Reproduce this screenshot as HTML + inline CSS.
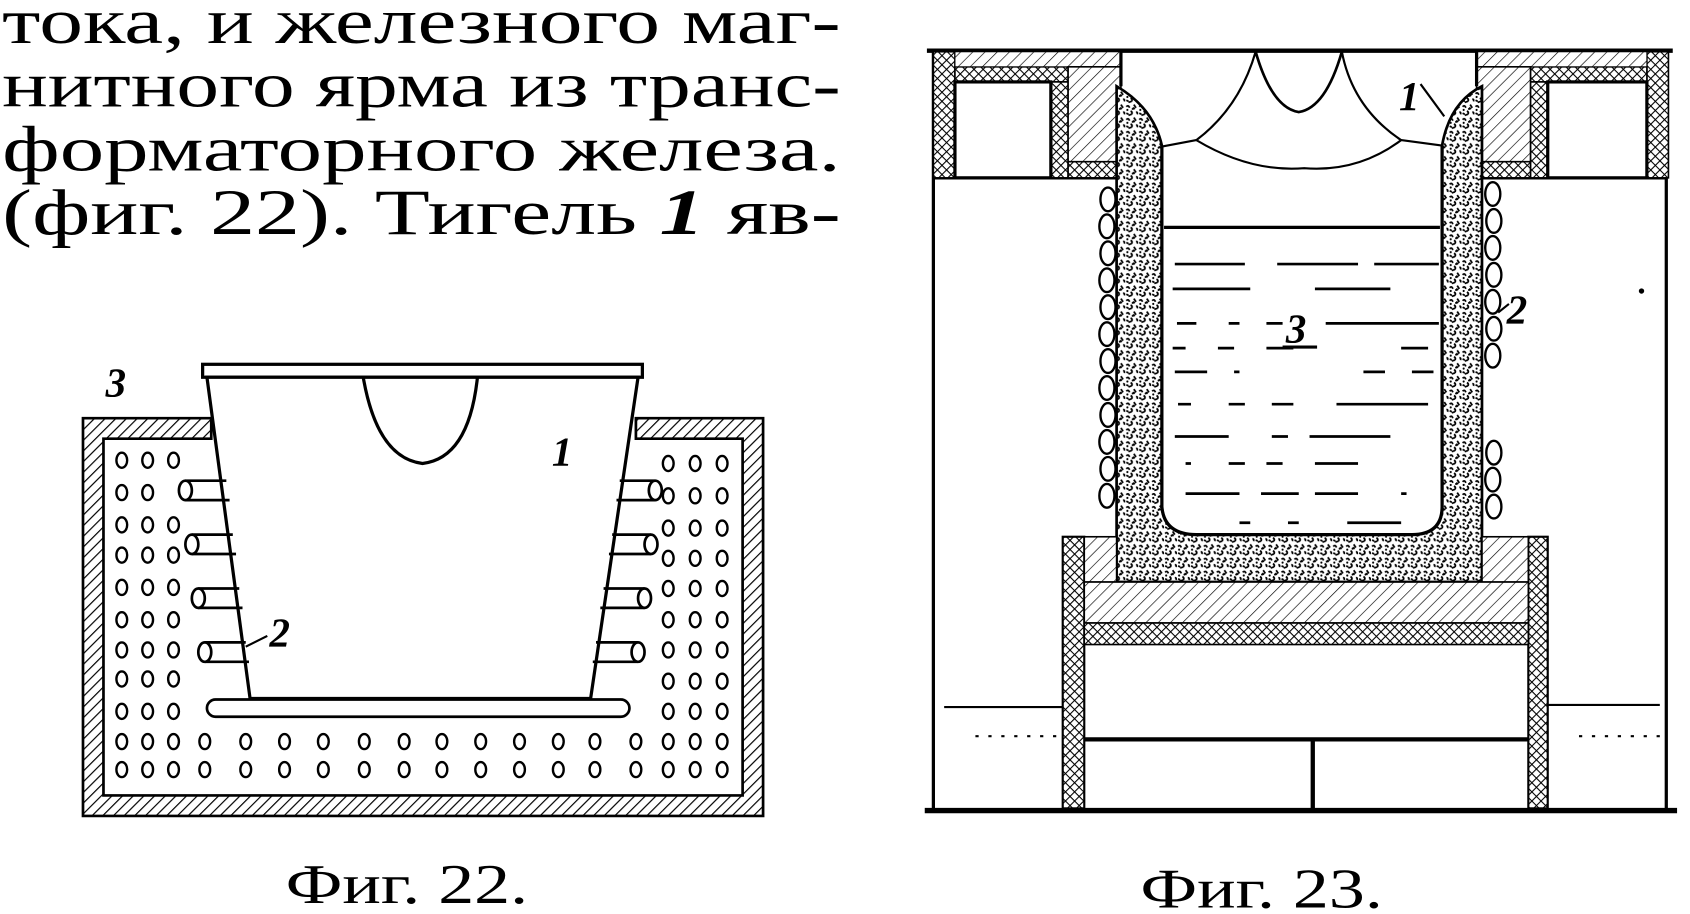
<!DOCTYPE html>
<html><head><meta charset="utf-8"><style>
html,body{margin:0;padding:0;background:#fff;}
svg{display:block;}
</style></head><body>
<svg width="1690" height="914" viewBox="0 0 1568 848" preserveAspectRatio="none" xmlns="http://www.w3.org/2000/svg">
<defs>
<pattern id="h" width="7" height="7" patternUnits="userSpaceOnUse" patternTransform="rotate(45)"><rect width="7" height="7" fill="#fff"/><line x1="0" y1="0" x2="0" y2="7" stroke="#000" stroke-width="2.2"/></pattern>
<pattern id="hl" width="8" height="8" patternUnits="userSpaceOnUse" patternTransform="rotate(45)"><rect width="8" height="8" fill="#fff"/><line x1="0" y1="0" x2="0" y2="8" stroke="#000" stroke-width="1.2"/></pattern>
<pattern id="x" width="6" height="6" patternUnits="userSpaceOnUse" patternTransform="rotate(45)"><rect width="6" height="6" fill="#fff"/><line x1="0" y1="0" x2="0" y2="6" stroke="#000" stroke-width="2"/><line x1="0" y1="0" x2="6" y2="0" stroke="#000" stroke-width="2"/></pattern>
<pattern id="g" width="12" height="12" patternUnits="userSpaceOnUse"><rect width="12" height="12" fill="#fff"/><path d="M1 3q2-2 3 1M8 1l2 3M5 7q2 1 1 3M10 8q2 0 1 2M1 9l2 1M3 11l3-1M7 4l2 1" stroke="#000" stroke-width="1.6" fill="none"/><circle cx="7" cy="5" r="1"/><circle cx="2" cy="6" r="1"/></pattern>
<g id="row" fill="none" stroke="#000" stroke-width="2.2"><ellipse cx="113" cy="0" rx="5" ry="7"/><ellipse cx="137" cy="0" rx="5" ry="7"/><ellipse cx="161" cy="0" rx="5" ry="7"/><ellipse cx="190" cy="0" rx="5" ry="7"/><ellipse cx="228" cy="0" rx="5" ry="7"/><ellipse cx="264" cy="0" rx="5" ry="7"/><ellipse cx="300" cy="0" rx="5" ry="7"/><ellipse cx="338" cy="0" rx="5" ry="7"/><ellipse cx="375" cy="0" rx="5" ry="7"/><ellipse cx="410" cy="0" rx="5" ry="7"/><ellipse cx="446" cy="0" rx="5" ry="7"/><ellipse cx="482" cy="0" rx="5" ry="7"/><ellipse cx="518" cy="0" rx="5" ry="7"/><ellipse cx="552" cy="0" rx="5" ry="7"/><ellipse cx="590" cy="0" rx="5" ry="7"/><ellipse cx="620" cy="0" rx="5" ry="7"/><ellipse cx="645" cy="0" rx="5" ry="7"/><ellipse cx="670" cy="0" rx="5" ry="7"/></g>
</defs>
<g font-family="'Liberation Serif','DejaVu Serif',serif" font-size="60" fill="#000">
<text x="2" y="40" textLength="778" lengthAdjust="spacingAndGlyphs">тока,  и  железного  маг-</text>
<text x="2" y="99" textLength="778" lengthAdjust="spacingAndGlyphs">нитного  ярма  из  транс-</text>
<text x="2" y="158" textLength="778" lengthAdjust="spacingAndGlyphs">форматорного      железа.</text>
<text x="2" y="217" textLength="778" lengthAdjust="spacingAndGlyphs">(фиг. 22).  Тигель <tspan font-weight="bold" font-style="italic">1</tspan>  яв-</text>
<text x="265" y="838" font-size="52" textLength="225" lengthAdjust="spacingAndGlyphs">Фиг. 22.</text>
<text x="1058" y="842" font-size="52" textLength="225" lengthAdjust="spacingAndGlyphs">Фиг. 23.</text>
</g>
<!-- Fig 22 -->
<g stroke="#000" stroke-width="3" fill="none">
<path d="M77 388H196V407H96V738H689V407H590V388H708V757H77Z" fill="url(#h)" stroke-width="2.5"/>
<rect x="188" y="338" width="408" height="12" fill="#fff"/>
<path d="M192 350H592L548 648H232Z" fill="#fff"/>
<path d="M337 350Q350 425 392 430Q435 425 443 350"/>
<g stroke-width="2.5" fill="#fff">
<path d="M172 446H210M172 464H213"/><ellipse cx="172" cy="455" rx="6" ry="9"/>
<path d="M178 496H216M178 514H219"/><ellipse cx="178" cy="505" rx="6" ry="9"/>
<path d="M184 546H222M184 564H225"/><ellipse cx="184" cy="555" rx="6" ry="9"/>
<path d="M190 596H228M190 614H231"/><ellipse cx="190" cy="605" rx="6" ry="9"/>
<path d="M575 446H608M572 464H608"/><ellipse cx="608" cy="455" rx="6" ry="9"/>
<path d="M568 496H604M565 514H604"/><ellipse cx="604" cy="505" rx="6" ry="9"/>
<path d="M560 546H598M557 564H598"/><ellipse cx="598" cy="555" rx="6" ry="9"/>
<path d="M553 596H592M550 614H592"/><ellipse cx="592" cy="605" rx="6" ry="9"/>
<rect x="192" y="649" width="392" height="16" rx="8"/>
</g>
<path d="M228 600L248 590" stroke-width="2"/>
</g>
<g font-family="'Liberation Serif',serif" font-style="italic" font-weight="bold" font-size="38">
<text x="98" y="368">3</text><text x="512" y="432">1</text><text x="250" y="600">2</text>
</g>
<g fill="none" stroke="#000" stroke-width="2.2">
<ellipse cx="113" cy="427" rx="5" ry="7"/><ellipse cx="137" cy="427" rx="5" ry="7"/><ellipse cx="161" cy="427" rx="5" ry="7"/>
<ellipse cx="113" cy="457" rx="5" ry="7"/><ellipse cx="137" cy="457" rx="5" ry="7"/>
<ellipse cx="113" cy="487" rx="5" ry="7"/><ellipse cx="137" cy="487" rx="5" ry="7"/><ellipse cx="161" cy="487" rx="5" ry="7"/>
<ellipse cx="113" cy="515" rx="5" ry="7"/><ellipse cx="137" cy="515" rx="5" ry="7"/><ellipse cx="161" cy="515" rx="5" ry="7"/>
<ellipse cx="113" cy="545" rx="5" ry="7"/><ellipse cx="137" cy="545" rx="5" ry="7"/><ellipse cx="161" cy="545" rx="5" ry="7"/>
<ellipse cx="113" cy="575" rx="5" ry="7"/><ellipse cx="137" cy="575" rx="5" ry="7"/><ellipse cx="161" cy="575" rx="5" ry="7"/>
<ellipse cx="113" cy="603" rx="5" ry="7"/><ellipse cx="137" cy="603" rx="5" ry="7"/><ellipse cx="161" cy="603" rx="5" ry="7"/>
<ellipse cx="113" cy="630" rx="5" ry="7"/><ellipse cx="137" cy="630" rx="5" ry="7"/><ellipse cx="161" cy="630" rx="5" ry="7"/>
<ellipse cx="113" cy="660" rx="5" ry="7"/><ellipse cx="137" cy="660" rx="5" ry="7"/><ellipse cx="161" cy="660" rx="5" ry="7"/>
<ellipse cx="620" cy="430" rx="5" ry="7"/><ellipse cx="645" cy="430" rx="5" ry="7"/><ellipse cx="670" cy="430" rx="5" ry="7"/>
<ellipse cx="620" cy="460" rx="5" ry="7"/><ellipse cx="645" cy="460" rx="5" ry="7"/><ellipse cx="670" cy="460" rx="5" ry="7"/>
<ellipse cx="620" cy="490" rx="5" ry="7"/><ellipse cx="645" cy="490" rx="5" ry="7"/><ellipse cx="670" cy="490" rx="5" ry="7"/>
<ellipse cx="620" cy="518" rx="5" ry="7"/><ellipse cx="645" cy="518" rx="5" ry="7"/><ellipse cx="670" cy="518" rx="5" ry="7"/>
<ellipse cx="620" cy="546" rx="5" ry="7"/><ellipse cx="645" cy="546" rx="5" ry="7"/><ellipse cx="670" cy="546" rx="5" ry="7"/>
<ellipse cx="620" cy="575" rx="5" ry="7"/><ellipse cx="645" cy="575" rx="5" ry="7"/><ellipse cx="670" cy="575" rx="5" ry="7"/>
<ellipse cx="620" cy="603" rx="5" ry="7"/><ellipse cx="645" cy="603" rx="5" ry="7"/><ellipse cx="670" cy="603" rx="5" ry="7"/>
<ellipse cx="620" cy="632" rx="5" ry="7"/><ellipse cx="645" cy="632" rx="5" ry="7"/><ellipse cx="670" cy="632" rx="5" ry="7"/>
<ellipse cx="620" cy="660" rx="5" ry="7"/><ellipse cx="645" cy="660" rx="5" ry="7"/><ellipse cx="670" cy="660" rx="5" ry="7"/>
</g>
<g fill="none" stroke="#000">
<use href="#row" transform="translate(0,688)"/>
<use href="#row" transform="translate(0,714)"/>
</g>
<!-- Fig 23 -->
<g stroke="#000" stroke-width="3" fill="none">
<path d="M860 47H1552" stroke-width="4"/>
<path d="M866 47V752M1546 47V752" stroke-width="3"/>
<path d="M858 752H1556" stroke-width="5"/>
<path d="M866 165H1040M1370 165H1546"/>
<rect x="866" y="48" width="20" height="117" fill="url(#x)" stroke-width="1.5"/>
<rect x="1528" y="48" width="20" height="117" fill="url(#x)" stroke-width="1.5"/>
<rect x="886" y="62" width="105" height="14" fill="url(#x)" stroke-width="1.5"/>
<rect x="1420" y="62" width="108" height="14" fill="url(#x)" stroke-width="1.5"/>
<rect x="886" y="48" width="154" height="14" fill="url(#hl)" stroke-width="1"/>
<rect x="1370" y="48" width="158" height="14" fill="url(#hl)" stroke-width="1"/>
<rect x="975" y="76" width="16" height="89" fill="url(#x)" stroke-width="1.5"/>
<rect x="1420" y="76" width="16" height="89" fill="url(#x)" stroke-width="1.5"/>
<rect x="991" y="150" width="49" height="15" fill="url(#x)" stroke-width="1.5"/>
<rect x="1370" y="150" width="50" height="15" fill="url(#x)" stroke-width="1.5"/>
<rect x="991" y="62" width="49" height="88" fill="url(#hl)" stroke-width="1.5"/>
<rect x="1370" y="62" width="50" height="88" fill="url(#hl)" stroke-width="1.5"/>
<rect x="886" y="76" width="89" height="89" fill="#fff"/>
<rect x="1436" y="76" width="92" height="89" fill="#fff"/>
<path d="M1036 80Q1070 100 1078 135V470Q1080 496 1110 496H1310Q1338 496 1338 470V135Q1345 95 1375 80V540H1036Z" fill="url(#g)" stroke-width="2.5"/>
<path d="M1078 135V470Q1080 496 1110 496H1310Q1338 496 1338 470V135" fill="#fff"/>
<path d="M1040 48V80M1370 48V80"/>
<path d="M1165 48Q1180 100 1205 104Q1230 100 1245 48" stroke-width="2.5"/>
<path d="M1165 48Q1150 100 1110 130Q1160 160 1210 156Q1260 160 1300 130Q1255 100 1245 48" stroke-width="2"/>
<path d="M1078 136L1110 130M1300 130L1338 135" stroke-width="2"/>
<path d="M1080 211H1336" stroke-width="3"/>
<g stroke-width="2.5">
<path d="M1090 245H1155M1185 245H1260M1275 245H1335M1088 268H1160M1220 268H1290M1092 300H1110M1140 300H1150M1175 300H1190M1230 300H1335M1088 323H1100M1130 323H1145M1175 323H1200M1300 323H1325M1090 345H1120M1145 345H1150M1265 345H1285M1310 345H1330M1093 375H1105M1140 375H1155M1180 375H1200M1240 375H1325M1090 405H1140M1180 405H1195M1215 405H1290M1100 430H1105M1140 430H1155M1175 430H1190M1220 430H1260M1100 458H1150M1170 458H1205M1220 458H1260M1300 458H1305M1150 485H1160M1195 485H1205M1250 485H1300"/>
</g>
<g stroke-width="2.2" fill="#fff">
<ellipse cx="1028" cy="185" rx="7" ry="11"/><ellipse cx="1027" cy="210" rx="7" ry="11"/><ellipse cx="1028" cy="235" rx="7" ry="11"/><ellipse cx="1027" cy="260" rx="7" ry="11"/><ellipse cx="1028" cy="285" rx="7" ry="11"/><ellipse cx="1027" cy="310" rx="7" ry="11"/><ellipse cx="1028" cy="335" rx="7" ry="11"/><ellipse cx="1027" cy="360" rx="7" ry="11"/><ellipse cx="1028" cy="385" rx="7" ry="11"/><ellipse cx="1027" cy="410" rx="7" ry="11"/><ellipse cx="1028" cy="435" rx="7" ry="11"/><ellipse cx="1027" cy="460" rx="7" ry="11"/>
<ellipse cx="1385" cy="180" rx="7" ry="11"/><ellipse cx="1386" cy="205" rx="7" ry="11"/><ellipse cx="1385" cy="230" rx="7" ry="11"/><ellipse cx="1386" cy="255" rx="7" ry="11"/><ellipse cx="1385" cy="280" rx="7" ry="11"/><ellipse cx="1386" cy="305" rx="7" ry="11"/><ellipse cx="1385" cy="330" rx="7" ry="11"/><ellipse cx="1386" cy="420" rx="7" ry="11"/><ellipse cx="1385" cy="445" rx="7" ry="11"/><ellipse cx="1386" cy="470" rx="7" ry="11"/>
</g>
<rect x="986" y="498" width="20" height="252" fill="url(#x)" stroke-width="2"/>
<rect x="1418" y="498" width="18" height="252" fill="url(#x)" stroke-width="2"/>
<rect x="1006" y="498" width="30" height="42" fill="url(#hl)" stroke-width="1.5"/>
<rect x="1375" y="498" width="43" height="42" fill="url(#hl)" stroke-width="1.5"/>
<rect x="1006" y="540" width="412" height="38" fill="url(#hl)" stroke-width="1.5"/>
<rect x="1006" y="578" width="412" height="20" fill="url(#x)" stroke-width="1.5"/>
<path d="M1006 686H1418M1218 686V752" stroke-width="4"/>
<path d="M876 656H986M1436 654H1540" stroke-width="2"/>
<path d="M905 683H985M1465 683H1540" stroke-width="2" stroke-dasharray="3 9"/>
<path d="M1318 78L1340 108M1390 290L1400 282" stroke-width="2"/>
</g>
<g font-family="'Liberation Serif',serif" font-style="italic" font-weight="bold" font-size="38">
<text x="1298" y="102">1</text><text x="1398" y="300">2</text><text x="1193" y="318">3</text>
</g>
<path d="M1190 322H1222" stroke="#000" stroke-width="3"/>
<circle cx="1523" cy="270" r="2.5"/>
</svg>
</body></html>
